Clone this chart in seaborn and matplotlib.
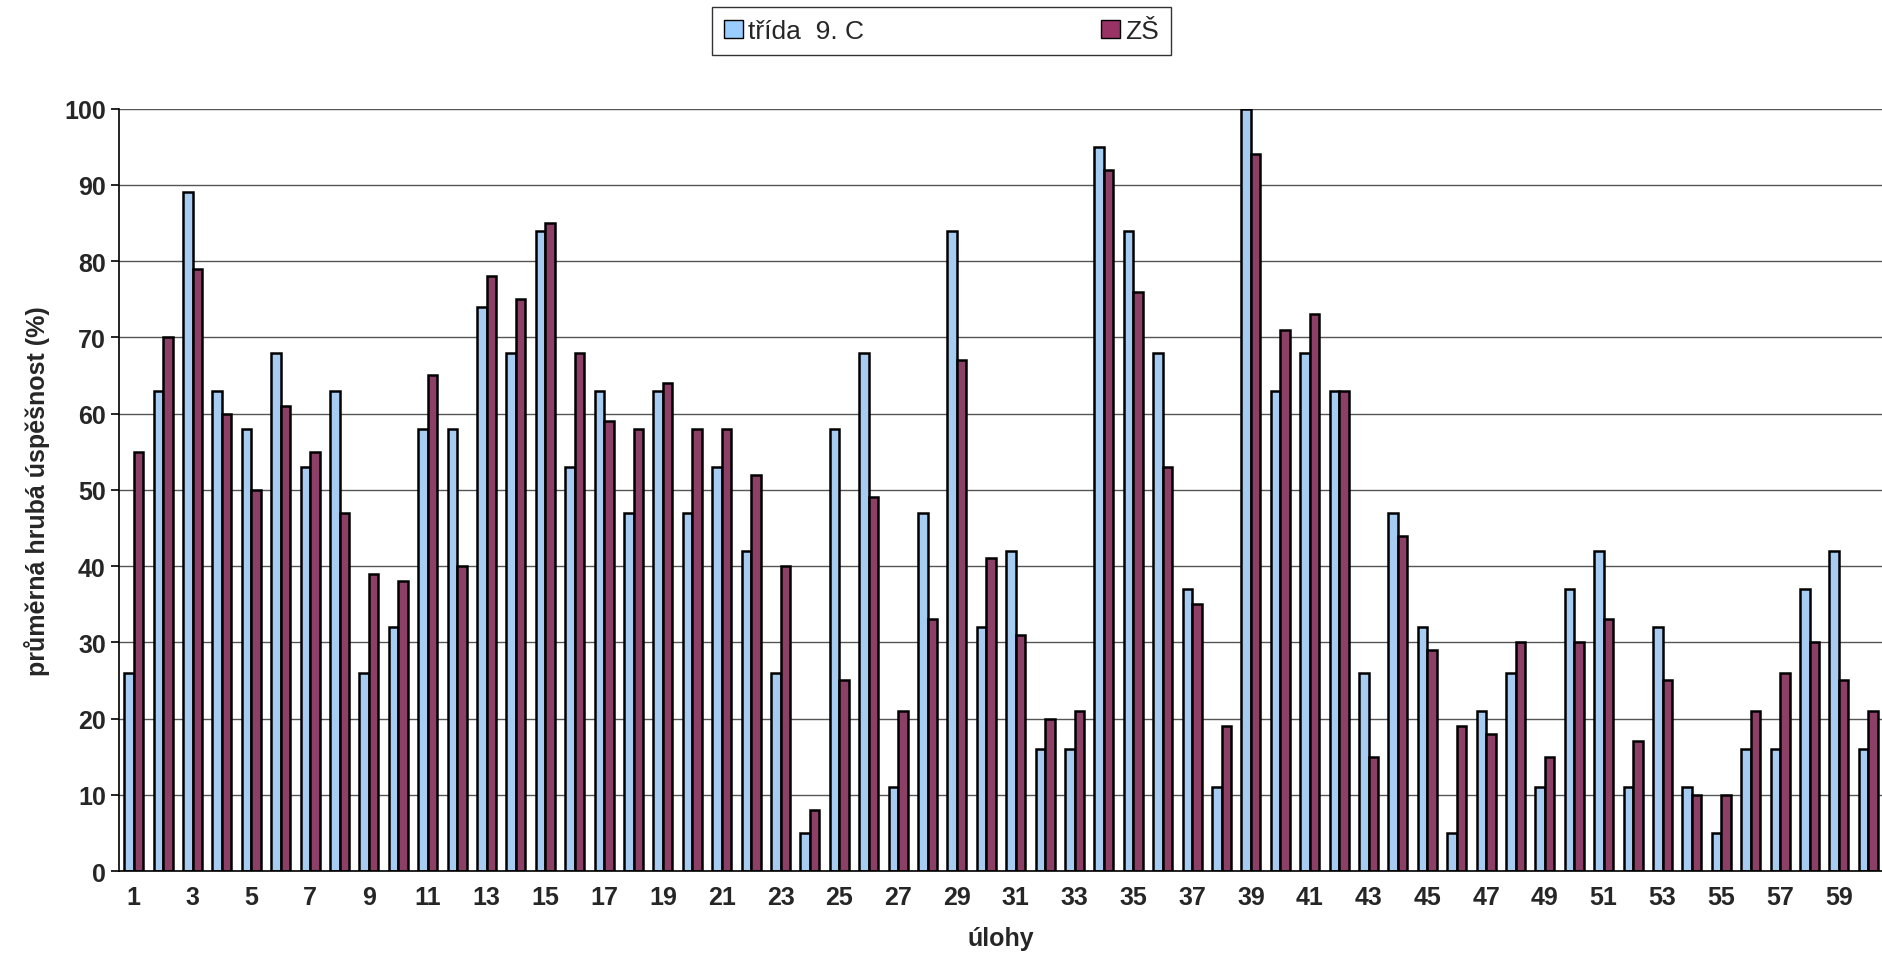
import pandas as pd
import matplotlib.pyplot as plt
import seaborn as sns
from matplotlib.patches import Patch

# values, task 1..60
trida = [26, 63, 89, 63, 58, 68, 53, 63, 26, 32, 58, 58, 74, 68, 84, 53, 63, 47, 63, 47,
         53, 42, 26, 5, 58, 68, 11, 47, 84, 32, 42, 16, 16, 95, 84, 68, 37, 11, 100, 63,
         68, 63, 26, 47, 32, 5, 21, 26, 11, 37, 42, 11, 32, 11, 5, 16, 16, 37, 42, 16]
zs = [55, 70, 79, 60, 50, 61, 55, 47, 39, 38, 65, 40, 78, 75, 85, 68, 59, 58, 64, 58,
      58, 52, 40, 8, 25, 49, 21, 33, 67, 41, 31, 20, 21, 92, 76, 53, 35, 19, 94, 71,
      73, 63, 15, 44, 29, 19, 18, 30, 15, 30, 33, 17, 25, 10, 10, 21, 26, 30, 25, 21]
ulohy = [str(i) for i in range(1, 61)]
series = ["třída  9. C", "ZŠ"]

df = pd.DataFrame({
    "uloha": ulohy * 2,
    "hodnota": trida + zs,
    "skupina": [series[0]] * 60 + [series[1]] * 60,
})

sns.set_style("white")
plt.rcParams["font.family"] = ["Liberation Sans", "DejaVu Sans"]

fig = plt.figure(figsize=(18.83, 9.7), dpi=100)
ax = fig.add_axes([0.0632, 0.101, 0.9368, 0.786])

sns.barplot(data=df, x="uloha", y="hodnota", hue="skupina", order=ulohy,
            palette=["#99CCFF", "#993366"], width=0.64, edgecolor="black",
            linewidth=1.8, ax=ax, legend=False)

ax.set_xlim(-0.5, 59.35)
ax.set_ylim(0, 100)
ax.set_yticks(range(0, 101, 10))
ax.yaxis.grid(True, color="#555555", linewidth=1.0)
ax.set_axisbelow(True)
for s in ["top", "right"]:
    ax.spines[s].set_visible(False)
for s in ["left", "bottom"]:
    ax.spines[s].set_color("black")
    ax.spines[s].set_linewidth(1.2)

ax.set_xticks(range(0, 60, 2))
ax.set_xticklabels(ulohy[::2], fontsize=18, fontweight="bold")
ax.set_xticks([i + 0.5 for i in range(-1, 60)], minor=True)
ax.tick_params(axis="x", which="major", length=0, pad=10)
ax.tick_params(axis="x", which="minor", length=6, width=1.2, direction="out", color="black")
ax.tick_params(axis="y", length=6, width=1.2, direction="out", left=True, color="black")
for t in ax.get_yticklabels():
    t.set_fontsize(18)
    t.set_fontweight("bold")

ax.set_xlabel("úlohy", fontsize=18, fontweight="bold", labelpad=12)
ax.set_ylabel("průměrná hrubá úspěšnost (%)", fontsize=18, fontweight="bold", labelpad=10)

# legend box at the top
handles = [Patch(facecolor="#99CCFF", edgecolor="black"), Patch(facecolor="#993366", edgecolor="black")]
leg = fig.legend(handles, series, loc="center", bbox_to_anchor=(0.5, 0.967), ncol=2,
                 frameon=True, fancybox=False, edgecolor="black", fontsize=19,
                 handlelength=0.7, handleheight=0.7, handletextpad=0.2,
                 columnspacing=9, borderpad=0.45, borderaxespad=0)
leg.get_frame().set_linewidth(1.0)
fig.canvas.draw()
# stretch legend frame to match the reference box width
leg._legend_box.set_width = None

fig.savefig("out.png", dpi=100)
